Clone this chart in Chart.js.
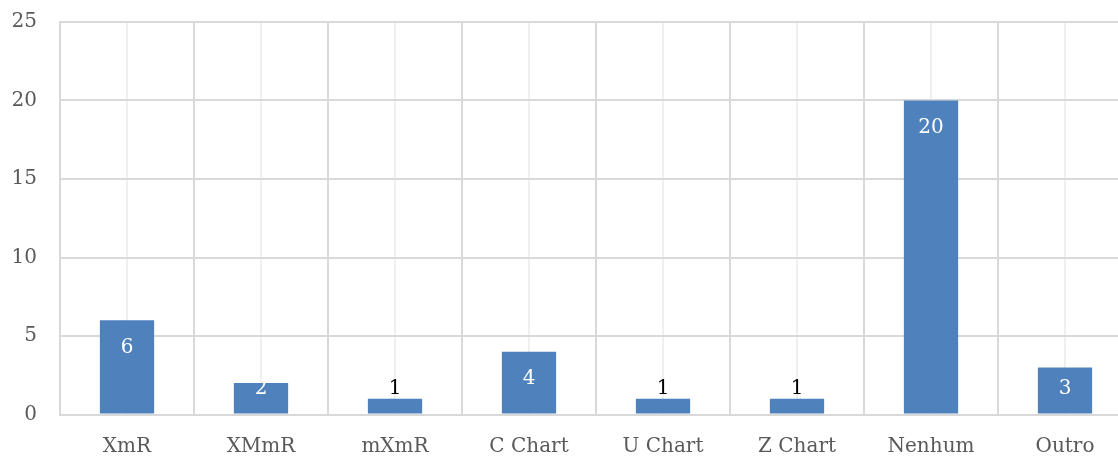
<!DOCTYPE html>
<html>
<head>
<meta charset="utf-8">
<script src="https://cdn.jsdelivr.net/npm/chart.js@4/dist/chart.umd.min.js"></script>
<style>
html,body{margin:0;padding:0;background:#fff;overflow:hidden;}
#wrap{width:1118px;height:456px;overflow:hidden;}
</style>
</head>
<body>
<div id="wrap"><canvas id="c" width="1134" height="456" style="width:1134px;height:456px;display:block"></canvas></div>
<script>
const categories = ["XmR", "XMmR", "mXmR", "C Chart", "U Chart", "Z Chart", "Nenhum", "Outro"];
const values = [6, 2, 1, 4, 1, 1, 20, 3];
const yTicks = [0, 5, 10, 15, 20, 25];

const FONT = "'DejaVu Serif', 'Liberation Serif', serif";
const FSIZE = 20;

const labelPlugin = {
  id: 'barLabels',
  afterDatasetsDraw(chart) {
    const ctx = chart.ctx;
    const meta = chart.getDatasetMeta(0);
    ctx.save();
    ctx.font = FSIZE + "px " + FONT;
    ctx.textAlign = 'center';
    ctx.textBaseline = 'middle';
    meta.data.forEach((bar, i) => {
      const v = values[i];
      const cy = Math.min(bar.y + 27.5, bar.base - 24.5);
      ctx.fillStyle = v <= 1 ? '#000000' : '#ffffff';
      ctx.fillText(String(v), bar.x, cy);
    });
    ctx.restore();
  }
};

new Chart(document.getElementById('c'), {
  type: 'bar',
  data: {
    labels: categories,
    datasets: [{
      data: values,
      backgroundColor: '#4F81BD',
      borderWidth: 0,
      barPercentage: 0.405,
      categoryPercentage: 1.0
    }]
  },
  options: {
    responsive: false,
    animation: false,
    layout: { padding: { left: 13, right: 2, top: 22, bottom: 0 } },
    plugins: { legend: { display: false }, tooltip: { enabled: false } },
    scales: {
      x: {
        offset: true,
        grid: { offset: true, color: '#d9d9d9', lineWidth: 2, drawTicks: false },
        border: { display: false },
        ticks: { color: '#595959', font: { family: FONT, size: FSIZE }, padding: 20, maxRotation: 0, autoSkip: false },
        afterFit(scale) { scale.height = 41.5; scale.paddingLeft = 0; scale.paddingRight = 0; }
      },
      x2: {
        type: 'category',
        labels: categories,
        position: 'top',
        offset: true,
        grid: { offset: false, color: '#efefef', lineWidth: 2, drawTicks: false },
        border: { display: false },
        ticks: { display: false },
        afterFit(scale) { scale.height = 0; scale.paddingLeft = 0; scale.paddingRight = 0; }
      },
      y: {
        min: 0,
        max: 25,
        afterBuildTicks(scale) { scale.ticks = yTicks.map(v => ({ value: v })); },
        grid: { color: '#d9d9d9', lineWidth: 2, drawTicks: false },
        border: { display: true, color: '#d9d9d9', width: 2 },
        ticks: { color: '#595959', font: { family: FONT, size: FSIZE }, padding: 23 },
        afterFit(scale) { scale.width = 47; scale.paddingTop = 0; scale.paddingBottom = 0; }
      }
    }
  },
  plugins: [labelPlugin]
});
</script>
</body>
</html>
